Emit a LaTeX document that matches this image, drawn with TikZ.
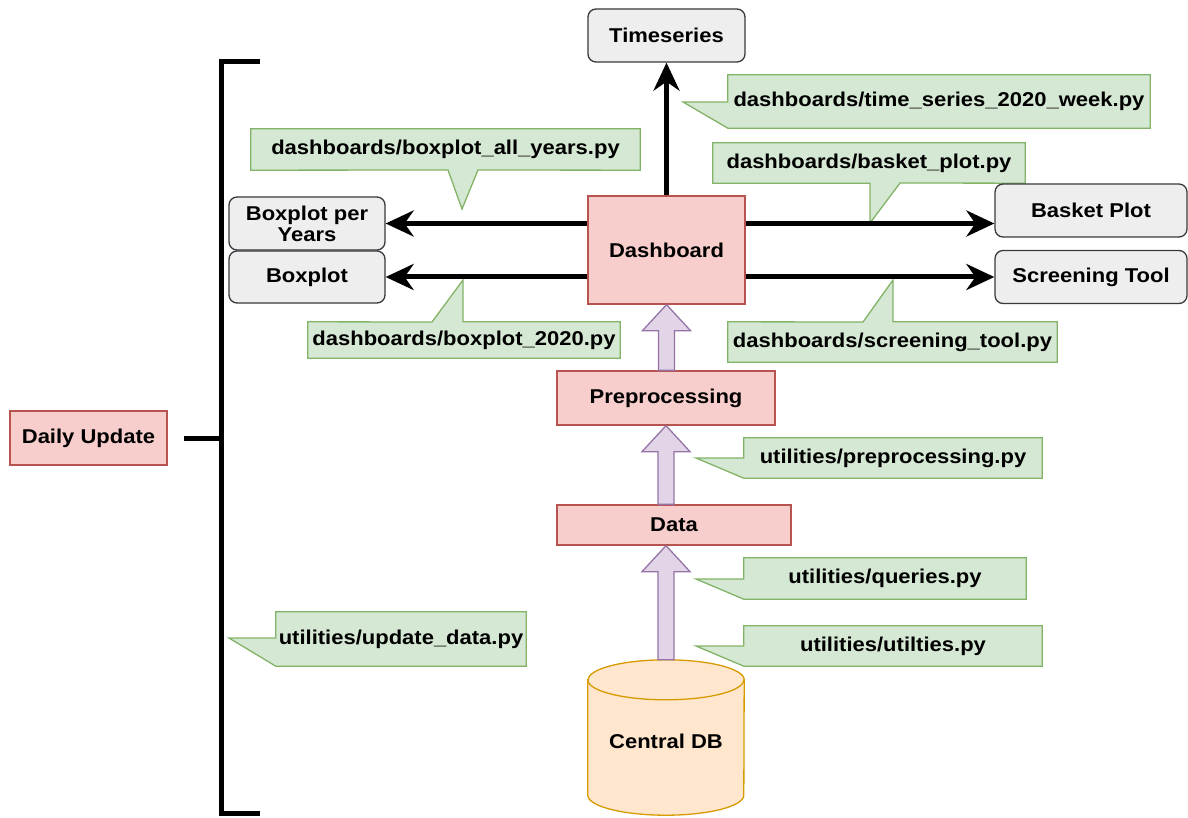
\documentclass[tikz,border=0pt]{standalone}
\usepackage{fontspec}
\setmainfont{Liberation Sans}[FakeStretch=1.1]
\usetikzlibrary{arrows.meta,calc,backgrounds}
\definecolor{pinkF}{HTML}{F8CECC}
\definecolor{pinkD}{HTML}{B85450}
\definecolor{grayF}{HTML}{EEEEEE}
\definecolor{grayD}{HTML}{36393D}
\definecolor{greenF}{HTML}{D5E8D4}
\definecolor{greenD}{HTML}{82B366}
\definecolor{purpF}{HTML}{E1D5E7}
\definecolor{purpD}{HTML}{9673A6}
\definecolor{orF}{HTML}{FFE6CC}
\definecolor{orD}{HTML}{D79B00}
\newcommand\myblockarrow[2]{%
  \path[blockarr] ($(#1)+(-8,0)$) -- ($(#2)+(-8,26)$) -- ($(#2)+(-24,26)$) -- (#2)
    -- ($(#2)+(24,26)$) -- ($(#2)+(8,26)$) -- ($(#1)+(8,0)$) -- cycle;}
\begin{document}
\begin{tikzpicture}[x=1pt,y=-1pt,
  every node/.style={font=\fontsize{20}{21}\selectfont\bfseries, inner sep=0pt, align=center},
  pinkbox/.style={draw=pinkD, fill=pinkF, line width=1.3pt},
  graybox/.style={draw=grayD, fill=grayF, line width=1.3pt, rounded corners=8pt},
  callout/.style={draw=none},
  calloutbg/.style={draw=greenD, fill=greenF, line width=1.3pt},
  blockarr/.style={draw=purpD, fill=purpF, line width=1.3pt},
  thickarrow/.style={line width=5pt, -{Stealth[length=28pt,width=26pt,inset=9pt]}},
  bracketline/.style={line width=5pt},
]
\useasboundingbox (0,0) rectangle (1188,818);

% main nodes
\node[graybox, minimum width=157pt, minimum height=53pt] (ts) at (666.5,35.5) {Timeseries};
\node[pinkbox, minimum width=157pt, minimum height=108pt] (dash) at (666.5,250) {Dashboard};
\node[graybox, minimum width=156pt, minimum height=53pt] (bpy) at (307,223.5) {Boxplot per\\Years};
\node[graybox, minimum width=156pt, minimum height=52pt] (bp) at (307,277) {Boxplot};
\node[graybox, minimum width=192pt, minimum height=53pt] (basket) at (1091,210.5) {Basket Plot};
\node[graybox, minimum width=192pt, minimum height=53pt] (screen) at (1091,277) {Screening Tool};
\node[pinkbox, minimum width=218pt, minimum height=54pt] (pre) at (666,398) {Preprocessing};
\node[pinkbox, minimum width=234pt, minimum height=40pt] (data) at (674,525) {Data};
\node[pinkbox, minimum width=157pt, minimum height=54pt] (daily) at (88.5,438) {Daily Update};
\node[draw=none, minimum width=156pt, minimum height=155pt] (db) at (666,737.5) {};

% database cylinder
\path[draw=orD, fill=orF, line width=1.3pt]
  ($(db.north west)+(0,20)$) -- ($(db.south west)+(0,-20)$)
  arc[start angle=180, end angle=0, x radius=78, y radius=20]
  -- ($(db.north east)+(0,20)$)
  arc[start angle=0, end angle=-180, x radius=78, y radius=20] -- cycle;
\draw[orD, line width=1.3pt] ($(db.north west)+(0,20)$)
  arc[start angle=180, end angle=0, x radius=78, y radius=20];
\node at ($(db.center)+(0,4)$) (dbt) {Central DB};

% callouts
\node[callout, minimum width=422pt, minimum height=53pt] (c1) at (939,101.5) {dashboards/time\_series\_2020\_week.py};
\node[callout, minimum width=389pt, minimum height=41pt] (c2) at (445.5,149.5) {dashboards/boxplot\_all\_years.py};
\node[callout, minimum width=312pt, minimum height=36pt] (c3) at (464,340) {dashboards/boxplot\_2020.py};
\node[callout, minimum width=312pt, minimum height=40pt] (c4) at (869,163) {dashboards/basket\_plot.py};
\node[callout, minimum width=329pt, minimum height=40pt] (c5) at (892.5,342) {dashboards/screening\_tool.py};
\node[callout, minimum width=298pt, minimum height=40pt] (c6) at (893,458) {utilities/preprocessing.py};
\node[callout, minimum width=282pt, minimum height=41pt] (c7) at (885,578.5) {utilities/queries.py};
\node[callout, minimum width=298pt, minimum height=40pt] (c8) at (893,646) {utilities/utilties.py};
\node[callout, minimum width=250pt, minimum height=54pt] (c9) at (401,639) {utilities/update\_data.py};

\coordinate (c1t) at (683,102);
\coordinate (c2t) at (462,209);
\coordinate (c3t) at (463,280);
\coordinate (c4t) at (870,223);
\coordinate (c5t) at (893,280);
\coordinate (c6t) at (696,458);
\coordinate (c7t) at (696,579);
\coordinate (c8t) at (696,646);
\coordinate (c9t) at (229,638);

\begin{scope}[on background layer]
\path[calloutbg] (c1.north west) -- (c1.north east) -- (c1.south east) -- (c1.south west) -- (c1t) -- (c1.west |- c1t) -- cycle;
\path[calloutbg] (c2.north west) -- (c2.north east) -- (c2.south east) -- (478,170) -- (c2t) -- (448,170) -- (c2.south west) -- cycle;
\path[calloutbg] (c3.south west) -- (c3.north west) -- (432,322) -- (c3t) -- (c3t |- c3.north) -- (c3.north east) -- (c3.south east) -- cycle;
\path[calloutbg] (c4.north west) -- (c4.north east) -- (c4.south east) -- (900,183) -- (c4t) -- (c4t |- c4.south) -- (c4.south west) -- cycle;
\path[calloutbg] (c5.south west) -- (c5.north west) -- (863,322) -- (c5t) -- (c5t |- c5.north) -- (c5.north east) -- (c5.south east) -- cycle;
\path[calloutbg] (c6.north west) -- (c6.north east) -- (c6.south east) -- (c6.south west) -- (c6t) -- (c6.west |- c6t) -- cycle;
\path[calloutbg] (c7.north west) -- (c7.north east) -- (c7.south east) -- (c7.south west) -- (c7t) -- (c7.west |- c7t) -- cycle;
\path[calloutbg] (c8.north west) -- (c8.north east) -- (c8.south east) -- (c8.south west) -- (c8t) -- (c8.west |- c8t) -- cycle;
\path[calloutbg] (c9.north west) -- (c9.north east) -- (c9.south east) -- (c9.south west) -- (c9t) -- (c9.west |- c9t) -- cycle;
\end{scope}

% block arrows
\myblockarrow{dash.south |- pre.north}{dash.south}
\myblockarrow{pre.south |- data.north}{pre.south}
\myblockarrow{db.north}{db.north |- data.south}

% thick arrows
\draw[thickarrow] (dash.north) -- (ts.south);
\draw[thickarrow] (dash.west |- bpy.east) -- (bpy.east);
\draw[thickarrow] (dash.west |- bp.east) -- (bp.east);
\draw[thickarrow] (dash.east |- bpy.east) -- (basket.west |- bpy.east);
\draw[thickarrow] (dash.east |- screen.west) -- (screen.west);

% bracket
\coordinate (brk) at (221,438);
\coordinate (brtop) at (260,62);
\coordinate (brbot) at (260,813);
\draw[bracketline] (brtop) -- (brtop -| brk) -- (brbot -| brk) -- (brbot);
\draw[bracketline] ($(daily.east)+(16,0)$) -- (brk);
\end{tikzpicture}
\end{document}
